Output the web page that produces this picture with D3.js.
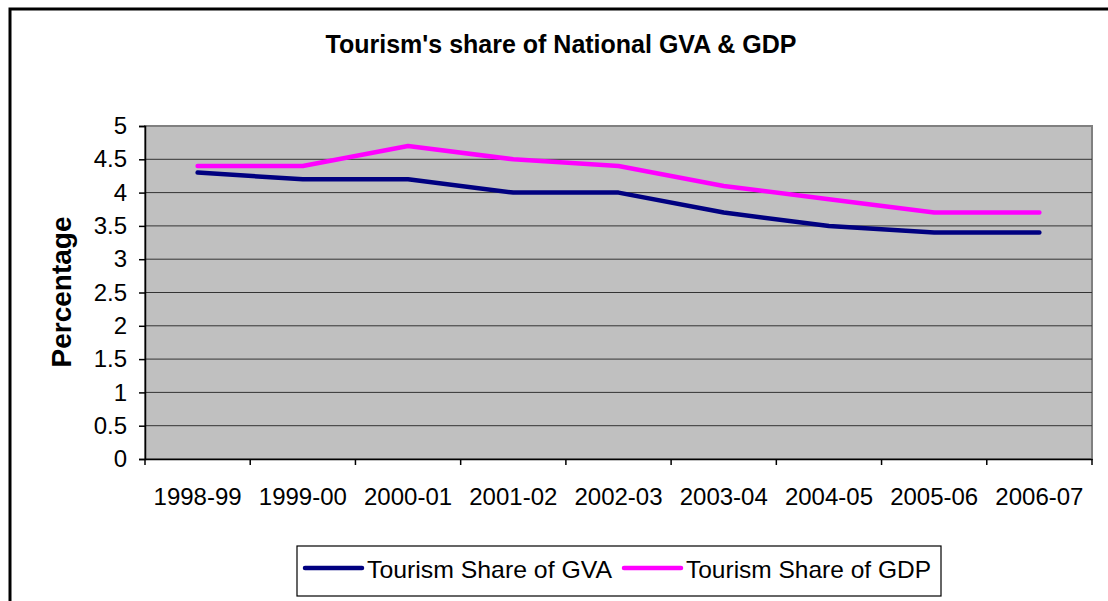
<!DOCTYPE html>
<html>
<head>
<meta charset="utf-8">
<script src="https://cdn.jsdelivr.net/npm/d3@7"></script>
<style>
  body { margin: 0; background: #fff; }
  svg { display: block; font-family: "Liberation Sans", Arial, sans-serif; }
</style>
</head>
<body>
<div id="chart"></div>
<script>
// data
const years = ["1998-99", "1999-00", "2000-01", "2001-02", "2002-03", "2003-04", "2004-05", "2005-06", "2006-07"];
const gvaShare = [4.3, 4.2, 4.2, 4.0, 4.0, 3.7, 3.5, 3.4, 3.4];
const gdpShare = [4.4, 4.4, 4.7, 4.5, 4.4, 4.1, 3.9, 3.7, 3.7];
const yTicks = [0, 0.5, 1, 1.5, 2, 2.5, 3, 3.5, 4, 4.5, 5];

const width = 1108, height = 601;
const plotLeft = 145, plotRight = 1092, plotTop = 126, plotBottom = 459;
const fontFam = "Liberation Sans, Arial, sans-serif";

const svg = d3.select("#chart").append("svg")
    .attr("width", width)
    .attr("height", height);

// outer chart border (runs off the right and bottom of the picture)
svg.append("rect")
    .attr("x", 10).attr("y", 9)
    .attr("width", 1120).attr("height", 620)
    .attr("fill", "#fff")
    .attr("stroke", "#000")
    .attr("stroke-width", 3);

let x = d3.scaleBand().domain(years).range([plotLeft, plotRight]);
let y = d3.scaleLinear().domain([0, 5]).range([plotBottom, plotTop]);

// plot area
svg.append("rect")
    .attr("x", plotLeft).attr("y", plotTop)
    .attr("width", plotRight - plotLeft).attr("height", plotBottom - plotTop)
    .attr("fill", "#c0c0c0")
    .attr("stroke", "#808080")
    .attr("stroke-width", 2);

// gridlines
svg.append("g")
    .selectAll("line")
    .data(yTicks.filter(d => d > 0 && d < 5))
    .enter()
    .append("line")
    .attr("x1", plotLeft).attr("x2", plotRight)
    .attr("y1", d => y(d)).attr("y2", d => y(d))
    .attr("stroke", "#333")
    .attr("stroke-width", 1);

// y axis
let yAxis = svg.append("g")
    .attr("transform", `translate(${plotLeft},0)`)
    .call(d3.axisLeft(y).tickValues(yTicks).tickSize(6).tickPadding(12).tickFormat(d => d));
yAxis.selectAll("text").attr("font-size", 24).attr("fill", "#000").attr("font-family", fontFam);
yAxis.selectAll("line").attr("stroke", "#000").attr("stroke-width", 1.5);
yAxis.select(".domain").attr("stroke", "#000").attr("stroke-width", 1.5);

// x axis
let xAxis = svg.append("g")
    .attr("transform", `translate(0,${plotBottom})`)
    .call(d3.axisBottom(x).tickSize(0).tickPadding(29));
xAxis.selectAll("text").attr("font-size", 24).attr("fill", "#000").attr("font-family", fontFam);
xAxis.select(".domain").attr("stroke", "#000").attr("stroke-width", 1.5);
xAxis.selectAll(".bound")
    .data(d3.range(years.length + 1))
    .enter()
    .append("line")
    .attr("class", "bound")
    .attr("x1", i => plotLeft + i * x.step()).attr("x2", i => plotLeft + i * x.step())
    .attr("y1", 0).attr("y2", 6)
    .attr("stroke", "#000").attr("stroke-width", 1.5);

// lines
let line = d3.line()
    .x((d, i) => x(years[i]) + x.bandwidth() / 2)
    .y(d => y(d));

svg.append("path")
    .datum(gvaShare)
    .attr("d", line)
    .attr("fill", "none")
    .attr("stroke", "#000080")
    .attr("stroke-width", 4.5)
    .attr("stroke-linecap", "round")
    .attr("stroke-linejoin", "round");

svg.append("path")
    .datum(gdpShare)
    .attr("d", line)
    .attr("fill", "none")
    .attr("stroke", "#ff00ff")
    .attr("stroke-width", 4.5)
    .attr("stroke-linecap", "round")
    .attr("stroke-linejoin", "round");

// title
svg.append("text")
    .attr("x", 561).attr("y", 53)
    .attr("text-anchor", "middle")
    .attr("font-size", 25)
    .attr("font-weight", "bold")
    .text("Tourism's share of National GVA & GDP");

// y axis title
svg.append("text")
    .attr("transform", "translate(71,292) rotate(-90)")
    .attr("text-anchor", "middle")
    .attr("font-size", 28)
    .attr("font-weight", "bold")
    .text("Percentage");

// legend
let legend = svg.append("g");
legend.append("rect")
    .attr("x", 297).attr("y", 546)
    .attr("width", 644).attr("height", 50)
    .attr("fill", "#fff")
    .attr("stroke", "#000")
    .attr("stroke-width", 1.2);

let items = [
    { name: "Tourism Share of GVA", color: "#000080", x0: 305 },
    { name: "Tourism Share of GDP", color: "#ff00ff", x0: 624 }
];
items.forEach(it => {
    legend.append("line")
        .attr("x1", it.x0).attr("x2", it.x0 + 57)
        .attr("y1", 568).attr("y2", 568)
        .attr("stroke", it.color)
        .attr("stroke-width", 4.5)
        .attr("stroke-linecap", "round");
    legend.append("text")
        .attr("x", it.x0 + 62).attr("y", 578)
        .attr("font-size", 24)
        .attr("textLength", 245)
        .attr("lengthAdjust", "spacingAndGlyphs")
        .text(it.name);
});
</script>
</body>
</html>
